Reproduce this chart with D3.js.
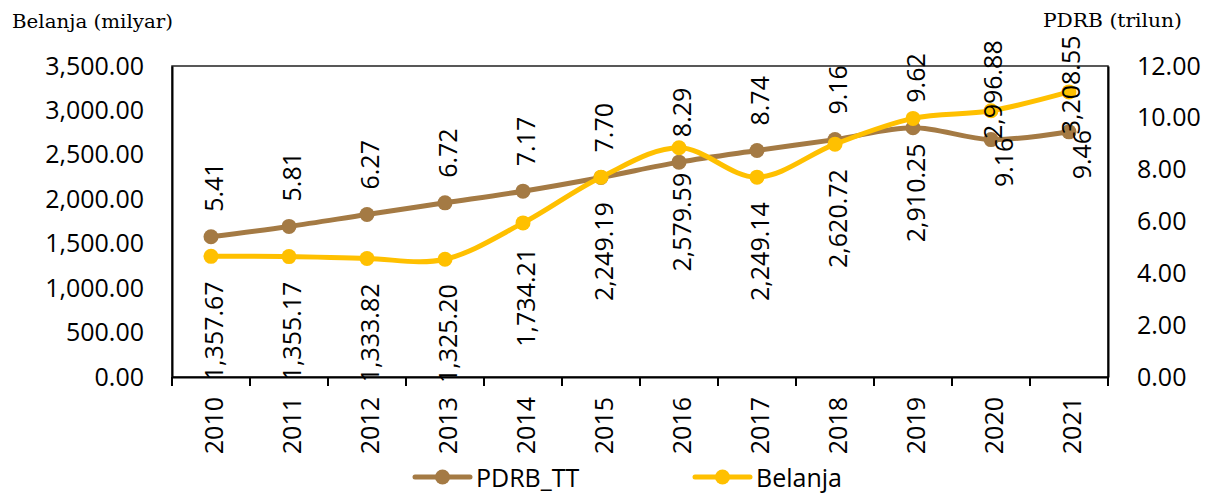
<!DOCTYPE html>
<html>
<head>
<meta charset="utf-8">
<script src="https://cdn.jsdelivr.net/npm/d3@7"></script>
<style>
  body { margin: 0; background: #fff; }
  svg { display: block; }
  text { font-family: "Open Sans", sans-serif; fill: #000; }
  .judul { font-family: "DejaVu Serif", serif; }
</style>
</head>
<body>
<svg id="chart" width="1212" height="493"></svg>
<script>
// data
const tahun = ["2010", "2011", "2012", "2013", "2014", "2015", "2016", "2017", "2018", "2019", "2020", "2021"];
const pdrbTT = [5.41, 5.81, 6.27, 6.72, 7.17, 7.70, 8.29, 8.74, 9.16, 9.62, 9.16, 9.46];
const belanja = [1357.67, 1355.17, 1333.82, 1325.20, 1734.21, 2249.19, 2579.59, 2249.14, 2620.72, 2910.25, 2996.88, 3208.55];
const tickKiri = [0, 500, 1000, 1500, 2000, 2500, 3000, 3500];
const tickKanan = [0, 2, 4, 6, 8, 10, 12];

// letak label data (bukan data)
const labelPdrb = tahun.map((t, i) => i < 10 ? { mode: "above", gap: 25, dx: 0 } : { mode: "below", gap: -2, dx: 10 });
const labelBelanja = tahun.map((t, i) => i < 10 ? { mode: "below", gap: 25, dx: 0 } : { mode: "center", dy: i === 10 ? -21 : -7, dx: -1 });

const warnaPdrb = "#A47A44";
const warnaBelanja = "#FFC000";

const svg = d3.select("#chart");
const m = { left: 172, right: 1108, top: 66, bottom: 377 };

const x = d3.scaleBand().domain(tahun).range([m.left, m.right]);
const yKiri = d3.scaleLinear().domain([0, 3500]).range([m.bottom, m.top]);
const yKanan = d3.scaleLinear().domain([0, 12]).range([m.bottom, m.top]);
const cx = (d) => x(d) + x.bandwidth() / 2;

// bingkai plot
svg.append("rect")
  .attr("x", m.left).attr("y", m.top)
  .attr("width", m.right - m.left).attr("height", m.bottom - m.top)
  .attr("fill", "none").attr("stroke", "#222").attr("stroke-width", 1.5);

// sumbu kiri
const axKiri = svg.append("g")
  .attr("transform", `translate(${m.left},0)`)
  .call(d3.axisLeft(yKiri).tickValues(tickKiri).tickFormat(d3.format(",.2f")).tickSize(0).tickPadding(28));
axKiri.select(".domain").attr("stroke", "#000").attr("stroke-width", 2);
axKiri.selectAll("text").style("font-size", "25px").style("font-family", "Open Sans");

// sumbu kanan
const axKanan = svg.append("g")
  .attr("transform", `translate(${m.right},0)`)
  .call(d3.axisRight(yKanan).tickValues(tickKanan).tickFormat(d3.format(".2f")).tickSize(0).tickPadding(29));
axKanan.select(".domain").attr("stroke", "#000").attr("stroke-width", 2);
axKanan.selectAll("text").style("font-size", "25px").style("font-family", "Open Sans");

// sumbu x
const axX = svg.append("g")
  .attr("transform", `translate(0,${m.bottom})`)
  .call(d3.axisBottom(x).tickSize(0).tickFormat(d => d));
axX.select(".domain").attr("stroke", "#000").attr("stroke-width", 2);
axX.selectAll("text")
  .style("font-size", "25px").style("font-family", "Open Sans")
  .attr("text-anchor", "end")
  .attr("dominant-baseline", "central")
  .attr("transform", "rotate(-90)")
  .attr("x", -20).attr("y", 2).attr("dy", null);

// garis tick antar kategori
const batas = tahun.map(d => x(d)).concat([m.right]);
svg.append("g").selectAll("line").data(batas).join("line")
  .attr("x1", d => d).attr("x2", d => d)
  .attr("y1", m.bottom).attr("y2", m.bottom + 9)
  .attr("stroke", "#000").attr("stroke-width", 2);

// garis seri
const garis = (yScale) => d3.line()
  .x((d, i) => cx(tahun[i]))
  .y(d => yScale(d))
  .curve(d3.curveCardinal.tension(0));

const seri = [
  { nama: "PDRB_TT", nilai: pdrbTT, skala: yKanan, warna: warnaPdrb, label: labelPdrb, fmt: d3.format(".2f") },
  { nama: "Belanja", nilai: belanja, skala: yKiri, warna: warnaBelanja, label: labelBelanja, fmt: d3.format(",.2f") }
];

seri.forEach(s => {
  svg.append("path")
    .datum(s.nilai)
    .attr("d", garis(s.skala))
    .attr("fill", "none")
    .attr("stroke", s.warna)
    .attr("stroke-width", 5)
    .attr("stroke-linecap", "round");
  svg.append("g").selectAll("circle").data(s.nilai).join("circle")
    .attr("cx", (d, i) => cx(tahun[i]))
    .attr("cy", d => s.skala(d))
    .attr("r", 7.5)
    .attr("fill", s.warna);
});

// label data
seri.forEach(s => {
  svg.append("g").selectAll("text").data(s.nilai).join("text")
    .attr("transform", (d, i) => {
      const l = s.label[i];
      const px = cx(tahun[i]) + 2 + (l.dx || 0);
      const py = s.skala(d);
      let ty;
      if (l.mode === "above") ty = py - l.gap;
      else if (l.mode === "below") ty = py + l.gap;
      else ty = py + l.dy;
      return `translate(${px},${ty}) rotate(-90)`;
    })
    .attr("text-anchor", (d, i) => s.label[i].mode === "above" ? "start" : s.label[i].mode === "below" ? "end" : "middle")
    .attr("dominant-baseline", "central")
    .style("font-size", "25px")
    .text(d => s.fmt(d));
});

// judul sumbu
svg.append("text").attr("class", "judul")
  .attr("x", 12).attr("y", 28)
  .style("font-size", "19px")
  .attr("textLength", 161).attr("lengthAdjust", "spacingAndGlyphs")
  .text("Belanja (milyar)");
svg.append("text").attr("class", "judul")
  .attr("x", 1043).attr("y", 27)
  .style("font-size", "19px")
  .attr("textLength", 139).attr("lengthAdjust", "spacingAndGlyphs")
  .text("PDRB (trilun)");

// legenda
const legenda = svg.append("g");
const posLeg = [415, 695];
seri.forEach((s, i) => {
  const g = legenda.append("g").attr("transform", `translate(${posLeg[i]},477)`);
  g.append("line").attr("x1", 0).attr("x2", 55).attr("y1", 0).attr("y2", 0)
    .attr("stroke", s.warna).attr("stroke-width", 5).attr("stroke-linecap", "round");
  g.append("circle").attr("cx", 27.5).attr("cy", 0).attr("r", 7.5).attr("fill", s.warna);
  g.append("text").attr("x", 61).attr("y", 0).attr("dominant-baseline", "central")
    .style("font-size", "25px").text(s.nama);
});
</script>
</body>
</html>
